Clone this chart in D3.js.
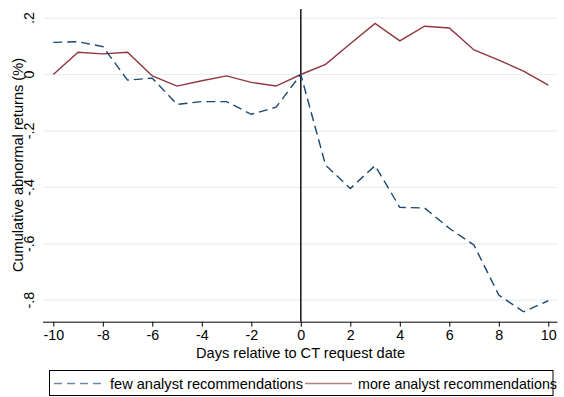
<!DOCTYPE html>
<html><head><meta charset="utf-8">
<script src="https://cdn.jsdelivr.net/npm/d3@7"></script>
<style>body{margin:0;background:#fff}svg{display:block}text{font-family:"Liberation Sans",Arial,sans-serif;fill:#000}</style>
</head><body>
<svg id="c" width="564" height="397"></svg>
<script>
const days = [-10,-9,-8,-7,-6,-5,-4,-3,-2,-1,0,1,2,3,4,5,6,7,8,9,10];
const fewValues = [0.114,0.116,0.099,-0.020,-0.013,-0.106,-0.096,-0.096,-0.141,-0.116,0,-0.321,-0.404,-0.323,-0.471,-0.473,-0.545,-0.605,-0.782,-0.841,-0.802];
const moreValues = [0,0.079,0.073,0.079,-0.005,-0.041,-0.022,-0.005,-0.028,-0.041,0,0.036,0.109,0.181,0.119,0.171,0.165,0.087,0.051,0.012,-0.038];
const xTicks = [-10,-8,-6,-4,-2,0,2,4,6,8,10];
const yTicks = [0.2,0,-0.2,-0.4,-0.6,-0.8];
const yTickLabels = [".2","0","-.2","-.4","-.6","-.8"];
const seriesNames = ["few analyst recommendations","more analyst recommendations"];

const svg = d3.select("#c");
const x = d3.scaleLinear().domain([-10,10]).range([53.3,548.3]);
const y = d3.scaleLinear().domain([0,-0.8]).range([74.5,300.2]);
const plotL = 43, plotR = 557.5, axisY = 321.7;

// gridlines
svg.append("g").selectAll("line").data(yTicks).join("line")
  .attr("x1",plotL).attr("x2",plotR)
  .attr("y1",d=>y(d)).attr("y2",d=>y(d))
  .attr("stroke","#e6eff1").attr("stroke-width",1.2);

// y tick labels (rotated)
svg.append("g").selectAll("text").data(yTicks).join("text")
  .attr("transform",d=>`translate(34,${y(d)}) rotate(-90)`)
  .attr("text-anchor","middle").attr("font-size",14.3)
  .text((d,i)=>yTickLabels[i]);

// y title
svg.append("text").attr("transform","translate(22.5,165) rotate(-90)")
  .attr("text-anchor","middle").attr("font-size",14.6)
  .text("Cumulative abnormal returns (%)");

// x axis
const xAxis = d3.axisBottom(x).tickValues(xTicks).tickSize(5).tickPadding(3).tickFormat(d=>String(d));
const gx = svg.append("g").attr("transform",`translate(0,${axisY})`).call(xAxis);
gx.select(".domain").attr("d",`M${plotL},0.5H${plotR}`).attr("stroke","#000");
gx.selectAll(".tick line").attr("stroke","#000");
gx.selectAll(".tick text").attr("font-size",14.3).attr("font-family","Liberation Sans, Arial, sans-serif").attr("fill","#000");

svg.append("text").attr("x",300.5).attr("y",357.5).attr("text-anchor","middle").attr("font-size",14.6)
  .text("Days relative to CT request date");

// vertical line at 0
svg.append("line").attr("x1",x(0)).attr("x2",x(0)).attr("y1",9).attr("y2",axisY)
  .attr("stroke","#222").attr("stroke-width",1.6);

const line = d3.line().x((d,i)=>x(days[i])).y(d=>y(d));
svg.append("path").datum(moreValues).attr("d",line).attr("fill","none")
  .attr("stroke","#90353b").attr("stroke-width",1.4);
svg.append("path").datum(fewValues).attr("d",line).attr("fill","none")
  .attr("stroke","#1a476f").attr("stroke-width",1.4).attr("stroke-dasharray","9,5");

// legend
const lg = svg.append("g");
lg.append("rect").attr("x",49.5).attr("y",370.5).attr("width",503.5).attr("height",25)
  .attr("fill","#fff").attr("stroke","#000").attr("stroke-width",1);
lg.append("line").attr("x1",54).attr("x2",101).attr("y1",383.5).attr("y2",383.5)
  .attr("stroke","#6d8ba6").attr("stroke-width",1.4).attr("stroke-dasharray","8,5");
lg.append("text").attr("x",110).attr("y",388.5).attr("font-size",14.6)
  .attr("textLength",193).attr("lengthAdjust","spacingAndGlyphs").text(seriesNames[0]);
lg.append("line").attr("x1",305).attr("x2",352).attr("y1",383.5).attr("y2",383.5)
  .attr("stroke","#b07d80").attr("stroke-width",1.4);
lg.append("text").attr("x",358).attr("y",388.5).attr("font-size",14.6)
  .attr("textLength",199).attr("lengthAdjust","spacingAndGlyphs").text(seriesNames[1]);
</script>
</body></html>
